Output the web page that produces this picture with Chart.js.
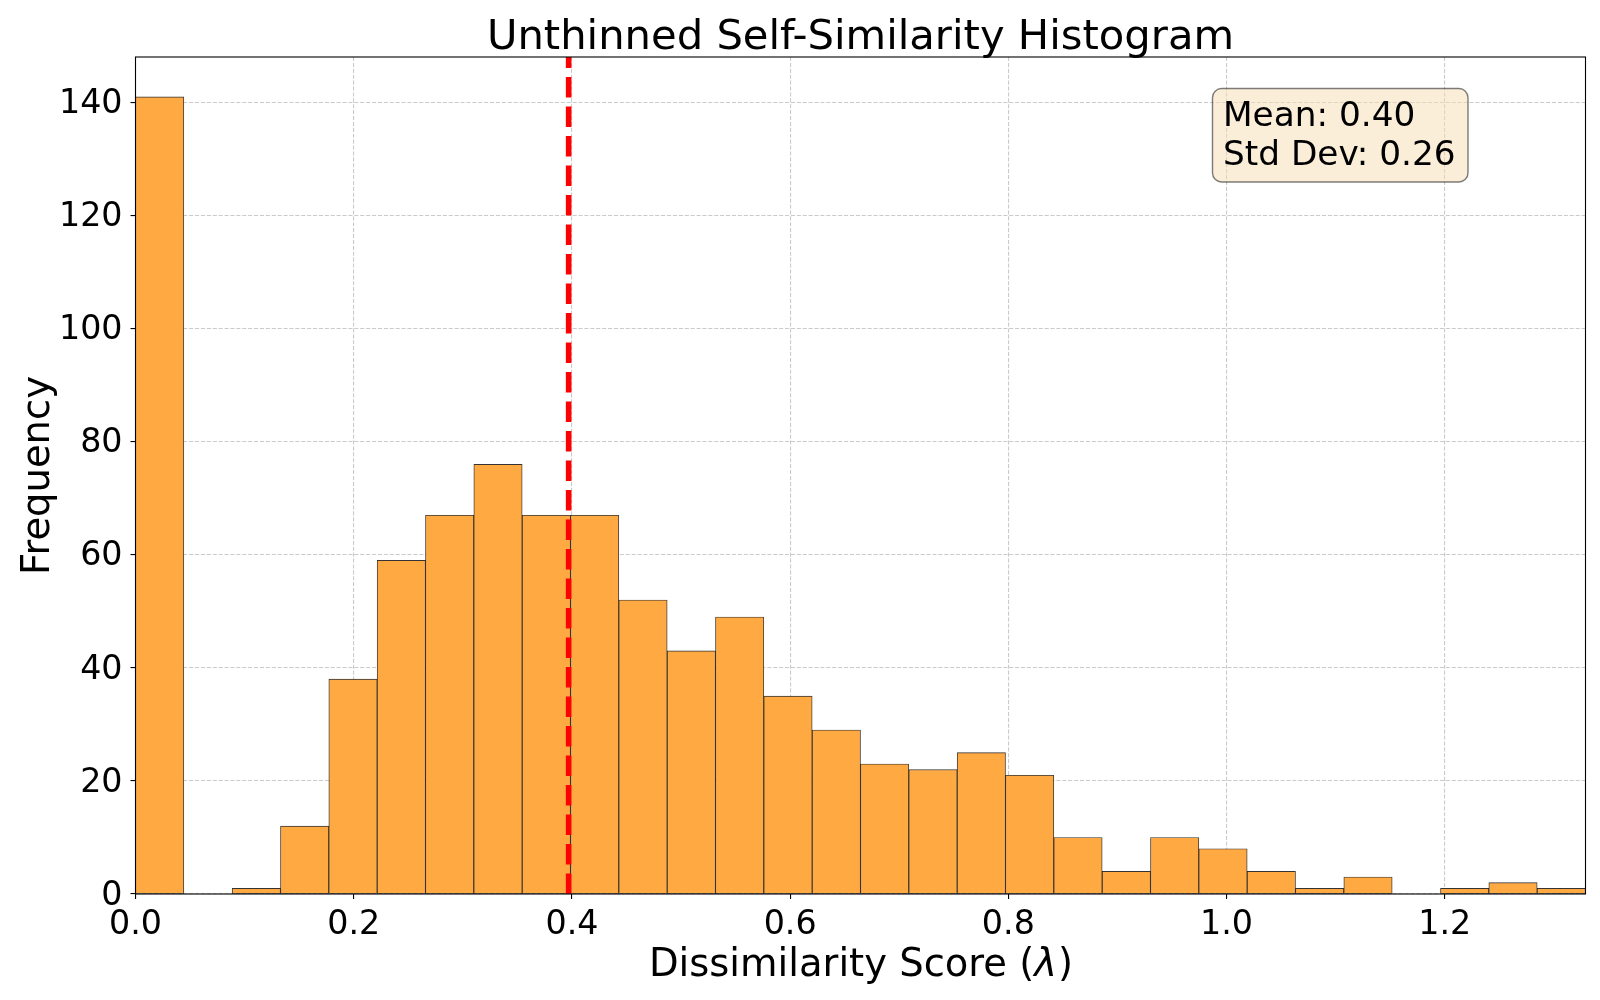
<!DOCTYPE html>
<html>
<head>
<meta charset="utf-8">
<script src="https://cdn.jsdelivr.net/npm/chart.js@4.4.0/dist/chart.umd.min.js"></script>
<style>
  html, body { margin: 0; padding: 0; background: #ffffff; }
  #wrap { width: 1600px; height: 1000px; position: relative; }
</style>
</head>
<body>
<div id="wrap"><canvas id="myChart" width="1600" height="1000"></canvas></div>
<script>
// Dados do histograma (contagens por intervalo)
const counts = [141, 0, 1, 12, 38, 59, 67, 76, 67, 67,
                52, 43, 49, 35, 29, 23, 22, 25, 21, 10,
                4, 10, 8, 4, 1, 3, 0, 1, 2, 1];
const xMin = 0;
const xMax = 1.329;
const yMax = 148.05;
const xTicks = [0.0, 0.2, 0.4, 0.6, 0.8, 1.0, 1.2];
const yTicks = [0, 20, 40, 60, 80, 100, 120, 140];
const meanValue = 0.397;
const stdValue = 0.26;

const titleText = 'Unthinned Self-Similarity Histogram';
const xLabelText = 'Dissimilarity Score (';
const xLabelSymbol = 'λ';
const yLabelText = 'Frequency';

const FONT = "'DejaVu Sans', sans-serif";

// centros dos intervalos
const binWidth = (xMax - xMin) / counts.length;
const histData = counts.map((c, i) => ({ x: xMin + (i + 0.5) * binWidth, y: c }));

// Textos extras: título, rótulos dos eixos, caixa de estatísticas, moldura
const extras = {
    id: 'extras',
    afterDatasetsDraw(chart) {
        const ctx = chart.ctx;
        const a = chart.chartArea;
        ctx.save();
        // moldura
        ctx.strokeStyle = '#000000';
        ctx.lineWidth = 1.1;
        ctx.strokeRect(a.left, a.top, a.right - a.left, a.bottom - a.top);

        // caixa Mean / Std Dev
        const bx = 1212.5, by = 88.5, bw = 255.5, bh = 93.5, r = 9;
        ctx.beginPath();
        ctx.roundRect(bx, by, bw, bh, r);
        ctx.fillStyle = 'rgba(245, 222, 179, 0.5)';
        ctx.fill();
        ctx.strokeStyle = 'rgba(0, 0, 0, 0.5)';
        ctx.lineWidth = 1.4;
        ctx.stroke();
        ctx.fillStyle = '#000000';
        ctx.font = '34.3px ' + FONT;
        ctx.textAlign = 'left';
        ctx.textBaseline = 'alphabetic';
        ctx.fillText('Mean: ' + meanValue.toFixed(2), 1223, 125.5);
        ctx.fillText('Std Dev: ' + stdValue.toFixed(2), 1223, 164.5);

        // título
        const cx = (a.left + a.right) / 2;
        ctx.font = '41.7px ' + FONT;
        ctx.textAlign = 'center';
        ctx.fillText(titleText, cx, 48.5);

        // rótulo do eixo x
        ctx.font = '38.5px ' + FONT;
        const w1 = ctx.measureText(xLabelText).width;
        ctx.font = 'italic 38.5px ' + FONT;
        const w2 = ctx.measureText(xLabelSymbol).width;
        ctx.font = '38.5px ' + FONT;
        const w3 = ctx.measureText(')').width;
        let sx = cx - (w1 + w2 + w3) / 2;
        ctx.textAlign = 'left';
        ctx.fillText(xLabelText, sx, 975.5);
        ctx.font = 'italic 38.5px ' + FONT;
        ctx.fillText(xLabelSymbol, sx + w1, 975.5);
        ctx.font = '38.5px ' + FONT;
        ctx.fillText(')', sx + w1 + w2 + 1, 975.5);

        // rótulo do eixo y
        ctx.translate(48.5, (a.top + a.bottom) / 2);
        ctx.rotate(-Math.PI / 2);
        ctx.textAlign = 'center';
        ctx.fillText(yLabelText, 0, 0);
        ctx.restore();
    }
};

document.addEventListener('DOMContentLoaded', function () {
    const data = {
        datasets: [{
            type: 'line',
            label: 'Mean',
            data: [{ x: meanValue, y: 0 }, { x: meanValue, y: yMax }],
            borderColor: '#ff0000',
            borderWidth: 5.6,
            borderDash: [20.6, 8.9],
            borderCapStyle: 'butt',
            pointRadius: 0,
            fill: false,
            order: 0
        }, {
            type: 'bar',
            label: 'Frequency',
            data: histData,
            backgroundColor: '#ffa943',
            borderColor: 'rgba(0, 0, 0, 0.8)',
            borderWidth: 0.9,
            borderSkipped: false,
            barPercentage: 1.0,
            categoryPercentage: 1.0,
            grouped: false,
            order: 1
        }]
    };

    const gridCommon = {
        color: '#cbcbcb',
        lineWidth: 1.1,
        drawTicks: true,
        tickLength: 5,
        tickColor: '#000000',
        tickWidth: 1.1,
        tickBorderDash: [],
        offset: false
    };
    const borderCommon = { display: false, dash: [4.1, 1.8] };

    const config = {
        type: 'bar',
        data: data,
        options: {
            responsive: false,
            animation: false,
            devicePixelRatio: 1,
            layout: { padding: { left: 0, right: 14.5, top: 57, bottom: 0 } },
            plugins: {
                legend: { display: false },
                title: { display: false },
                tooltip: { enabled: false }
            },
            scales: {
                x: {
                    type: 'linear',
                    min: xMin,
                    max: xMax,
                    offset: false,
                    afterBuildTicks(scale) {
                        scale.ticks = xTicks.map(v => ({ value: v }));
                    },
                    ticks: {
                        font: { family: FONT, size: 33.3 },
                        color: '#000000',
                        padding: 6,
                        maxRotation: 0,
                        autoSkip: false,
                        callback: v => Number(v).toFixed(1)
                    },
                    grid: gridCommon,
                    border: borderCommon,
                    afterFit(scale) { scale.height = 106; }
                },
                y: {
                    type: 'linear',
                    min: 0,
                    max: yMax,
                    afterBuildTicks(scale) {
                        scale.ticks = yTicks.map(v => ({ value: v }));
                    },
                    ticks: {
                        font: { family: FONT, size: 33.3 },
                        color: '#000000',
                        padding: 8,
                        labelOffset: 2,
                        autoSkip: false,
                        callback: v => String(v)
                    },
                    grid: gridCommon,
                    border: borderCommon,
                    afterFit(scale) { scale.width = 135.5; }
                }
            }
        },
        plugins: [extras]
    };

    var ctx = document.getElementById('myChart').getContext('2d');
    new Chart(ctx, config);
});
</script>
</body>
</html>
